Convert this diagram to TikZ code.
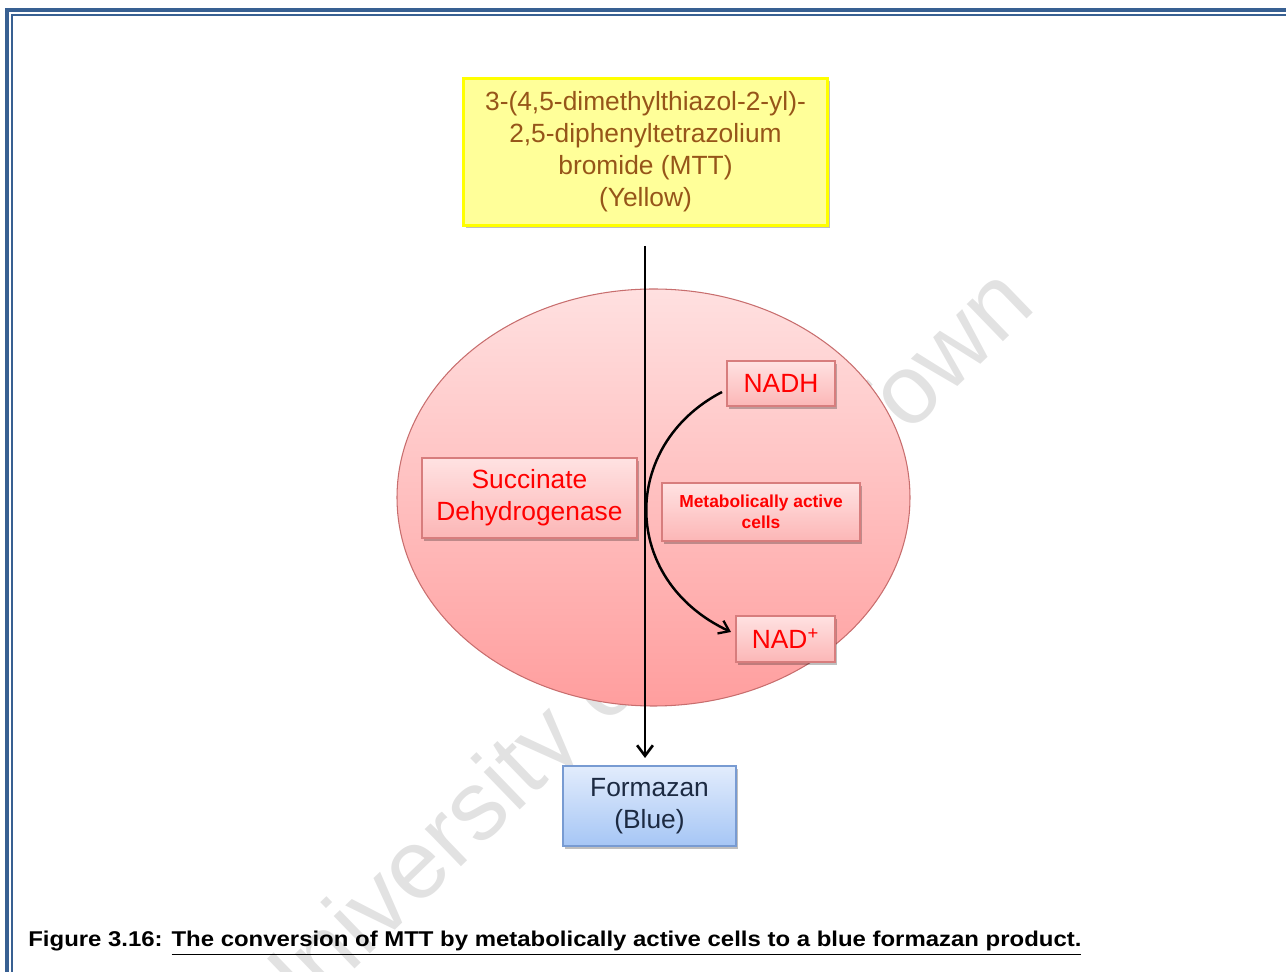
\documentclass[tikz,border=0pt]{standalone}
\usepackage{fontspec}
\setmainfont{Liberation Sans}
\usetikzlibrary{shapes.geometric,arrows.meta,shadows}
\newlength\upx
\setlength\upx{0.02cm}
\definecolor{framecol}{RGB}{56,96,146}
\definecolor{yelfill}{RGB}{255,255,153}
\definecolor{yelline}{RGB}{255,255,0}
\definecolor{browntxt}{RGB}{150,85,25}
\definecolor{celltop}{RGB}{255,224,224}
\definecolor{cellbot}{RGB}{255,158,158}
\definecolor{cellline}{RGB}{200,110,110}
\definecolor{boxtop}{RGB}{255,226,226}
\definecolor{boxbot}{RGB}{252,182,182}
\definecolor{boxline}{RGB}{215,125,125}
\definecolor{bluetop}{RGB}{226,236,252}
\definecolor{bluebot}{RGB}{166,198,245}
\definecolor{blueline}{RGB}{120,155,210}
\definecolor{navytxt}{RGB}{28,42,66}
\definecolor{wmgray}{RGB}{226,226,226}
\tikzset{
  softshadow/.style={drop shadow={shadow xshift=1.2pt,shadow yshift=-1.5pt,opacity=0.25,fill=black}},
  pinkbox/.style={rectangle,draw=boxline,line width=0.6pt,top color=boxtop,bottom color=boxbot,softshadow,text=red,align=center,inner sep=0pt},
  bigfont/.style={font=\fontsize{15}{18.2}\selectfont},
  flowarrow/.style={line width=1.7pt,-{Straight Barb[length=6pt,width=9pt,line width=1.5pt]}},
  cyclearrow/.style={line width=1.4pt,-{Straight Barb[length=5.5pt,width=8pt,line width=1.3pt]}}
}
\begin{document}
\begin{tikzpicture}[x=0.02cm,y=-0.02cm]
\useasboundingbox (0,0) rectangle (1286,972);
% watermark
\begin{scope}
\clip (0,0) rectangle (1286,972);
\node[rotate=44,anchor=base west,inner sep=0pt,text=wmgray,font=\fontsize{56}{56}\selectfont] (wm) at (275,1046) {University of Cape Town};
\end{scope}
% page frame
\draw[framecol,line width=4\upx] (7,972) -- (7,10) -- (1286,10);
\draw[framecol,line width=2\upx] (12,972) -- (12,15) -- (1286,15);
% cell ellipse
\node[ellipse,draw=cellline,line width=0.6pt,top color=celltop,bottom color=cellbot,minimum width=513\upx,minimum height=417\upx,inner sep=0pt] (cell) at (653.5,497.5) {};
% MTT box
\node[rectangle,draw=yelline,line width=3\upx,fill=yelfill,softshadow,minimum width=364\upx,minimum height=147\upx,inner sep=0pt,text=browntxt,align=center,bigfont] (mtt) at (645.5,152) {3-(4,5-dimethylthiazol-2-yl)-\\2,5-diphenyltetrazolium\\bromide (MTT)\\(Yellow)};
% boxes in the cell
\node[pinkbox,minimum width=215\upx,minimum height=80\upx,bigfont] (sdh) at (529.5,498) {Succinate\\Dehydrogenase};
\node[pinkbox,minimum width=108\upx,minimum height=45\upx,bigfont] (nadh) at (781,383.5) {NADH};
\node[pinkbox,minimum width=198\upx,minimum height=58\upx,font=\fontsize{9.9}{12}\selectfont\bfseries] (mac) at (761,512) {Metabolically active\\cells};
\node[pinkbox,minimum width=99\upx,minimum height=46\upx,bigfont] (nad) at (785.5,639) {NAD\textsuperscript{+}};
% formazan
\node[rectangle,draw=blueline,line width=0.6pt,top color=bluetop,bottom color=bluebot,softshadow,minimum width=173\upx,minimum height=80\upx,inner sep=0pt,text=navytxt,align=center,bigfont] (form) at (649.5,806) {Formazan\\(Blue)};
% main arrow
\coordinate (a1) at (645,246);
\coordinate (a2) at (645,758);
\draw[flowarrow] (a1) -- (a2);
% NADH -> NAD+ curve
\coordinate (c1) at (722,392);
\coordinate (c2) at (731,632);
\draw[cyclearrow] (c1) .. controls (620,445) and (620,580) .. (c2);
% caption
\node[anchor=base west,inner sep=0pt] (cap) at (28,947) {\resizebox{1053\upx}{15.5\upx}{\bfseries Figure 3.16: \underline{The conversion of MTT by metabolically active cells to a blue formazan product.}}};
\end{tikzpicture}
\end{document}
